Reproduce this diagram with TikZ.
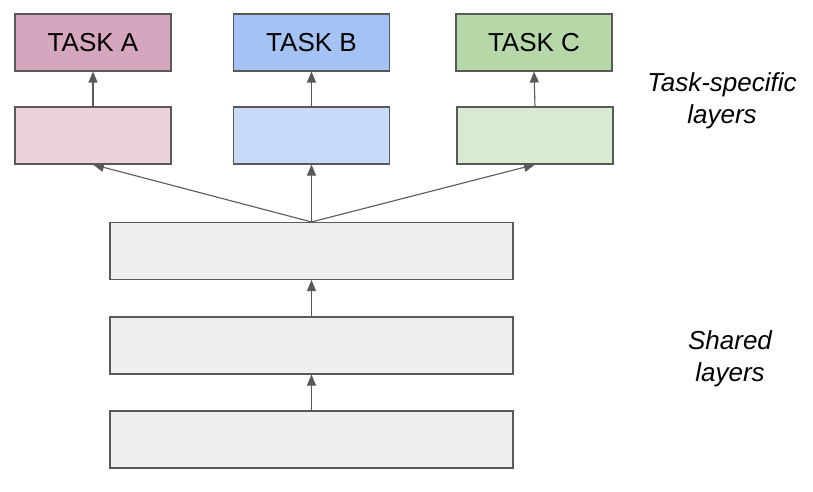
\documentclass[tikz,border=0pt]{standalone}
\usepackage{fontspec}
\setmainfont{Liberation Sans}
\usetikzlibrary{arrows.meta}
\definecolor{taskA}{HTML}{d5a6bd}
\definecolor{taskB}{HTML}{a4c2f4}
\definecolor{taskC}{HTML}{b6d7a8}
\definecolor{layerA}{HTML}{ead1dc}
\definecolor{layerB}{HTML}{c9daf8}
\definecolor{layerC}{HTML}{d9ead3}
\definecolor{shared}{HTML}{eeeeee}
\definecolor{edge}{HTML}{595959}

\begin{document}
\begin{tikzpicture}[
        box/.style = {draw = edge, line width = 1.1pt, rectangle, inner sep = 0pt,
                      minimum width = 156pt, minimum height = 57pt, font = \fontsize{26}{30}\selectfont},
        wide/.style = {box, minimum width = 403pt},
        note/.style = {align = center, font = \fontsize{26}{32}\selectfont\itshape},
        arr/.style = {draw = edge, line width = 1.1pt, -{Triangle[length = 11pt, width = 9pt]}}
    ]
        \useasboundingbox (0pt, 0pt) rectangle (813pt, -492pt);

        % Tasks
        \node [box, fill = taskA] (ta) at (93pt, -42.5pt) {TASK A};
        \node [box, fill = taskB] (tb) at (311.5pt, -42.5pt) {TASK B};
        \node [box, fill = taskC] (tc) at (534pt, -42.5pt) {TASK C};

        % Task-specific layers
        \node [box, fill = layerA] (la) at (93pt, -135.5pt) {};
        \node [box, fill = layerB] (lb) at (311.5pt, -135.5pt) {};
        \node [box, fill = layerC] (lc) at (535pt, -135.5pt) {};

        % Shared layers
        \node [wide, fill = shared] (s1) at (311.5pt, -251pt) {};
        \node [wide, fill = shared] (s2) at (311.5pt, -345.5pt) {};
        \node [wide, fill = shared] (s3) at (311.5pt, -439.5pt) {};

        % Labels
        \node [note] (specific) at (722pt, -101pt) {Task-specific\\layers};
        \node [note] (sharedtxt) at (730pt, -359pt) {Shared\\layers};

        % Lines
        \draw [arr] (la.north) -- (ta.south);
        \draw [arr] (lb.north) -- (tb.south);
        \draw [arr] (lc.north) -- (tc.south);
        \draw [arr] (s1.north) -- (la.south);
        \draw [arr] (s1.north) -- (lb.south);
        \draw [arr] (s1.north) -- (lc.south);
        \draw [arr] (s2.north) -- (s1.south);
        \draw [arr] (s3.north) -- (s2.south);

    \end{tikzpicture}
\end{document}
